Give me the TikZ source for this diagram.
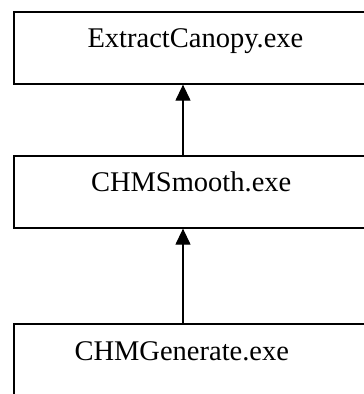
\documentclass[tikz,border=0pt]{standalone}
\usepackage{fontspec}
\setmainfont{Liberation Serif}
\usetikzlibrary{arrows.meta}
\tikzset{
	prog/.style     = {draw, line width=1.3pt, fill=white, rectangle, minimum width=400pt, minimum height=72pt, inner sep=0pt},
	progname/.style = {anchor=base west, inner sep=0pt, font=\fontsize{28.5}{32}\selectfont},
	hidden/.style   = {coordinate},
	feed/.style     = {line width=1.3pt, -{Triangle[length=16pt, width=15pt]}},
}

\begin{document}
\begin{tikzpicture}[x=1pt, y=-1pt]
	\useasboundingbox (0,0) rectangle (364,394);
	\clip (0,0) rectangle (364,394);
	% Draw the program boxes
	\node[prog] (extract) at (214,48) {};
	\node[prog, below of = extract, node distance = 144pt] (smooth) {};
	\node[prog, below of = smooth , node distance = 168pt] (generate) {};
	\node[hidden] (axis) at (183,0) {};
	
	% Program names
	\node[progname] (extractname)  at ([shift={(74pt,-36.5pt)}]extract.north west)   {ExtractCanopy.exe};
	\node[progname] (smoothname)   at ([shift={(77.5pt,-36.5pt)}]smooth.north west)  {CHMSmooth.exe};
	\node[progname] (generatename) at ([shift={(61pt,-37pt)}]generate.north west)    {CHMGenerate.exe};
	
	% Connect everything together
	\draw[feed] (smooth.north -| axis) -- (extract.south -| axis);
	\draw[feed] (generate.north -| axis) -- (smooth.south -| axis);
\end{tikzpicture}
\end{document}
